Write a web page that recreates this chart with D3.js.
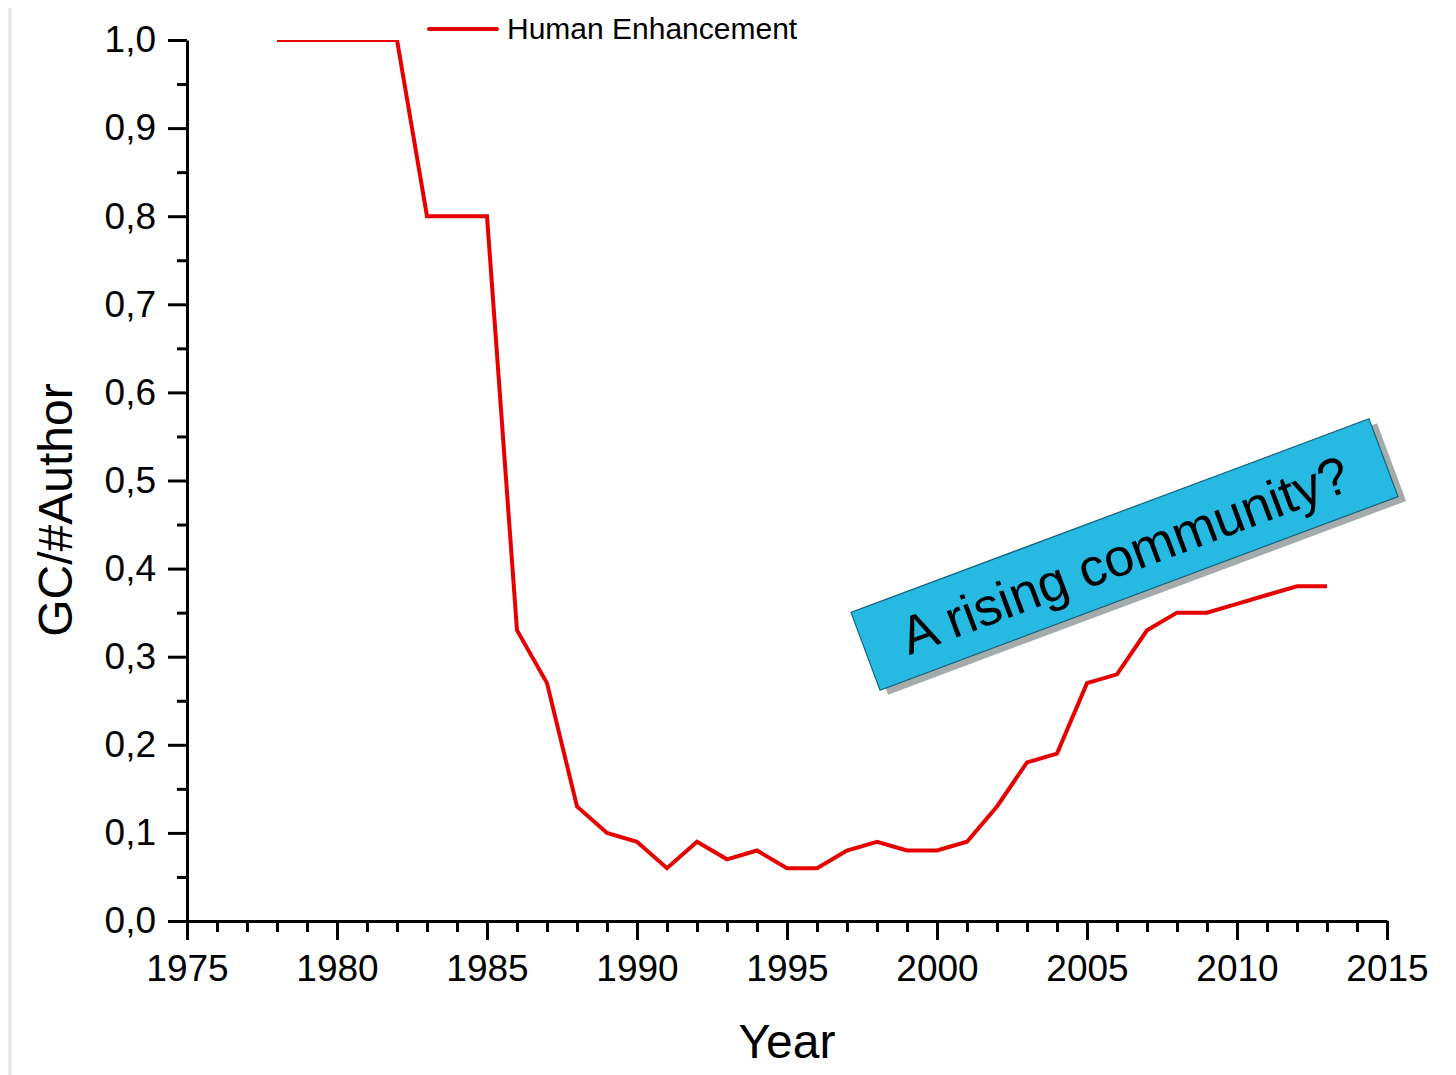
<!DOCTYPE html>
<html><head><meta charset="utf-8">
<script src="https://cdn.jsdelivr.net/npm/d3@7"></script>
<style>body{margin:0;background:#fff}svg{display:block}text{font-family:"Liberation Sans",Arial,sans-serif}</style>
</head><body>
<script>
const years = [1978,1979,1980,1981,1982,1983,1984,1985,1986,1987,1988,1989,1990,1991,1992,1993,1994,1995,1996,1997,1998,1999,2000,2001,2002,2003,2004,2005,2006,2007,2008,2009,2010,2011,2012,2013];
const values = [1.0,1.0,1.0,1.0,1.0,0.8,0.8,0.8,0.33,0.27,0.13,0.10,0.09,0.06,0.09,0.07,0.08,0.06,0.06,0.08,0.09,0.08,0.08,0.09,0.13,0.18,0.19,0.27,0.28,0.33,0.35,0.35,0.36,0.37,0.38,0.38];
const xTicks = [1975,1980,1985,1990,1995,2000,2005,2010,2015];
const yTicks = [0,0.1,0.2,0.3,0.4,0.5,0.6,0.7,0.8,0.9,1.0];
const seriesName = "Human Enhancement";
const xTitle = "Year", yTitle = "GC/#Author";
const note = "A rising community?";

const W = 1456, H = 1075;
const svg = d3.select("body").append("svg").attr("width", W).attr("height", H);

// faint page edge
svg.append("line").attr("x1",10).attr("x2",10).attr("y1",8).attr("y2",H)
  .attr("stroke","#e4e4e4").attr("stroke-width",3);

const x = d3.scaleLinear().domain([1975,2015]).range([187,1387]);
const y = d3.scaleLinear().domain([0,1]).range([921,40]);

svg.append("clipPath").attr("id","clip").append("rect")
  .attr("x",187).attr("y",40).attr("width",1200).attr("height",881);

const data = years.map((d,i)=>({x:d,y:values[i]}));
svg.append("path").datum(data).attr("clip-path","url(#clip)")
  .attr("fill","none").attr("stroke","#e60000").attr("stroke-width",4).attr("stroke-linejoin","miter")
  .attr("d", d3.line().x(d=>x(d.x)).y(d=>y(d.y)));

// minor ticks
const xMinor = d3.range(1975,2016,1).filter(v=>v%5!==0);
const yMinor = d3.range(0.05,1,0.1);
const gxm = svg.append("g").attr("transform","translate(0,921)")
  .call(d3.axisBottom(x).tickValues(xMinor).tickSize(11).tickSizeOuter(0).tickFormat(""));
const gym = svg.append("g").attr("transform","translate(187,0)")
  .call(d3.axisLeft(y).tickValues(yMinor).tickSize(10).tickSizeOuter(0).tickFormat(""));
[gxm,gym].forEach(g=>{g.select(".domain").remove();g.selectAll("line").attr("stroke","#000").attr("stroke-width",3);});

const gx = svg.append("g").attr("transform","translate(0,921)")
  .call(d3.axisBottom(x).tickValues(xTicks).tickSize(19).tickSizeOuter(0).tickPadding(15).tickFormat(d3.format("d")));
const gy = svg.append("g").attr("transform","translate(187,0)")
  .call(d3.axisLeft(y).tickValues(yTicks).tickSize(19).tickSizeOuter(0).tickPadding(12).tickFormat(d=>d.toFixed(1).replace(".",",")));
[gx,gy].forEach(g=>{
  g.select(".domain").attr("stroke","#000").attr("stroke-width",3);
  g.selectAll("line").attr("stroke","#000").attr("stroke-width",3);
  g.selectAll("text").attr("font-size",37).attr("fill","#000").style("font-family","'Liberation Sans',Arial,sans-serif");
});

// axis titles
svg.append("text").attr("x",787).attr("y",1058).attr("text-anchor","middle")
  .attr("font-size",48).attr("fill","#000").text(xTitle);
svg.append("text").attr("transform","translate(72,510) rotate(-90)").attr("text-anchor","middle")
  .attr("font-size",48).attr("fill","#000").text(yTitle);

// legend
svg.append("line").attr("x1",429).attr("x2",497).attr("y1",29).attr("y2",29)
  .attr("stroke","#e60000").attr("stroke-width",4).attr("stroke-linecap","round");
svg.append("text").attr("x",507).attr("y",39).attr("font-size",30).attr("fill","#000").text(seriesName);

// annotation box
const ang = -20.5, bw = 553, bh = 83;
const ann = svg.append("g").attr("transform",`translate(1124.5,554.5) rotate(${ang})`);
ann.append("rect").attr("x",-bw/2+6).attr("y",-bh/2+7).attr("width",bw).attr("height",bh).attr("fill","#a3abab");
ann.append("rect").attr("x",-bw/2).attr("y",-bh/2).attr("width",bw).attr("height",bh)
  .attr("fill","#26b9e1").attr("stroke","#14637e").attr("stroke-width",1.2);
ann.append("text").attr("x",0).attr("y",19).attr("text-anchor","middle")
  .attr("font-size",53).attr("fill","#000").text(note);
</script>
</body></html>
